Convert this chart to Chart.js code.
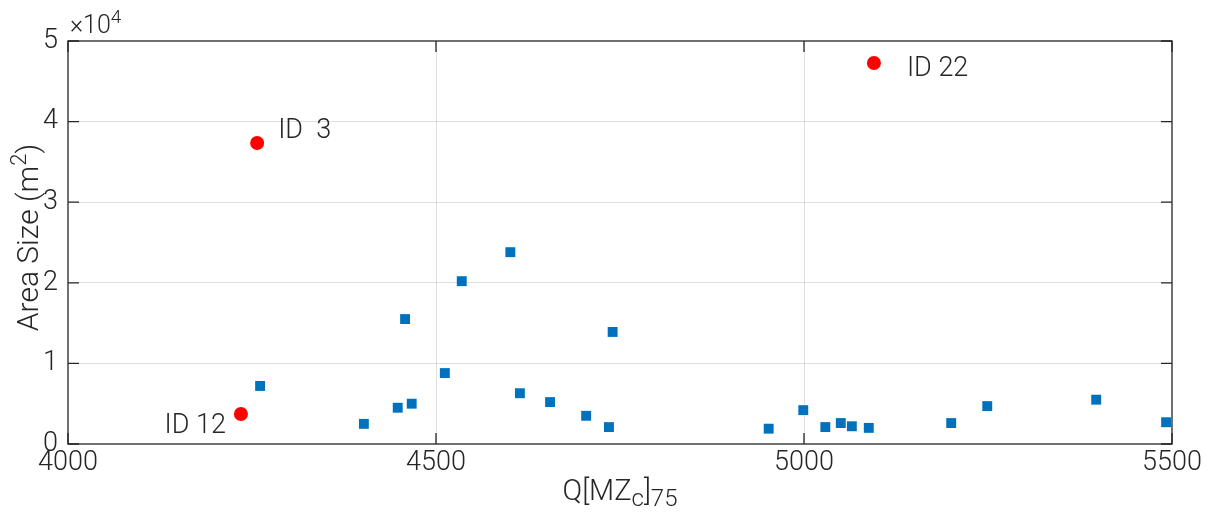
<!DOCTYPE html>
<html>
<head>
<meta charset="utf-8">
<script src="https://cdn.jsdelivr.net/npm/chart.js@4.4.1/dist/chart.umd.min.js"></script>
<style>
  html, body { margin: 0; padding: 0; background: #fff; }
  #wrap { width: 1210px; height: 515px; }
</style>
</head>
<body>
<div id="wrap"><canvas id="myChart" width="1210" height="515"></canvas></div>
<script>
// Data
const xTicks = [4000, 4500, 5000, 5500];
const yTicks = [0, 10000, 20000, 30000, 40000, 50000];

const areaQ = [4261, 4402, 4448, 4458, 4467, 4512, 4535, 4601, 4614, 4655, 4704, 4735,
  4740, 4952, 4999, 5029, 5050, 5065, 5088, 5200, 5249, 5397, 5492];
const areaSize = [7200, 2500, 4500, 15500, 5000, 8800, 20200, 23800, 6300, 5200, 3500, 2100,
  13900, 1900, 4200, 2100, 2600, 2200, 2000, 2600, 4700, 5500, 2700];

const outlierIds = ["ID  3", "ID 12", "ID 22"];
const outlierQ = [4257, 4235, 5095];
const outlierSize = [37350, 3720, 47270];

const FONT = "Roboto, 'Liberation Sans', sans-serif";
const AXIS = "#262626";
const GRID = "rgba(38,38,38,0.15)";

var chartdata = document.getElementById("myChart");

const toPoints = (xs, ys) => xs.map((x, i) => ({ x: x, y: ys[i] }));

// text pieces with sub / superscripts, drawn in a row
function drawRich(ctx, parts, x, y) {
  parts.forEach((p) => {
    ctx.font = "300 " + p.size + "px " + FONT;
    ctx.fillText(p.t, x, y + (p.dy || 0));
    x += ctx.measureText(p.t).width;
  });
}
function richWidth(ctx, parts) {
  let w = 0;
  parts.forEach((p) => {
    ctx.font = "300 " + p.size + "px " + FONT;
    w += ctx.measureText(p.t).width;
  });
  return w;
}

// box, inward ticks, axis titles and point labels
const decor = {
  id: "decor",
  afterDraw(chart) {
    const ctx = chart.ctx;
    const a = chart.chartArea;
    const sx = chart.scales.x;
    const sy = chart.scales.y;
    ctx.save();
    ctx.strokeStyle = AXIS;
    ctx.lineWidth = 1.3;
    ctx.strokeRect(a.left, a.top, a.right - a.left, a.bottom - a.top);

    const tl = 11;
    ctx.beginPath();
    xTicks.forEach((v) => {
      const px = sx.getPixelForValue(v);
      ctx.moveTo(px, a.bottom); ctx.lineTo(px, a.bottom - tl);
      ctx.moveTo(px, a.top); ctx.lineTo(px, a.top + tl);
    });
    yTicks.forEach((v) => {
      const py = sy.getPixelForValue(v);
      ctx.moveTo(a.left, py); ctx.lineTo(a.left + tl, py);
      ctx.moveTo(a.right, py); ctx.lineTo(a.right - tl, py);
    });
    ctx.stroke();

    ctx.fillStyle = AXIS;
    ctx.textBaseline = "alphabetic";
    ctx.textAlign = "left";

    // x title Q[MZc]75
    const xt = [
      { t: "Q[MZ", size: 29 },
      { t: "c", size: 24, dy: 6 },
      { t: "]", size: 29 },
      { t: "75", size: 24, dy: 6 },
    ];
    const cx = (a.left + a.right) / 2;
    drawRich(ctx, xt, cx - richWidth(ctx, xt) / 2, 500);

    // y title Area Size (m2)
    const yt = [
      { t: "Area Size (m", size: 30 },
      { t: "2", size: 22, dy: -12 },
      { t: ")", size: 30 },
    ];
    ctx.save();
    ctx.translate(38, (a.top + a.bottom) / 2 - 5);
    ctx.rotate(-Math.PI / 2);
    drawRich(ctx, yt, -richWidth(ctx, yt) / 2, 0);
    ctx.restore();

    // exponent
    drawRich(ctx, [{ t: "\u00d710", size: 25 }, { t: "4", size: 19, dy: -10 }], 70, 33);

    // point labels
    ctx.font = "300 27px " + FONT;
    ctx.textBaseline = "middle";
    const offs = [[21, -12, "left"], [-15, 12, "right"], [33, 6, "left"]];
    outlierIds.forEach((id, i) => {
      const px = sx.getPixelForValue(outlierQ[i]);
      const py = sy.getPixelForValue(outlierSize[i]);
      ctx.textAlign = offs[i][2];
      ctx.fillText(id, px + offs[i][0], py + offs[i][1]);
    });
    ctx.restore();
  },
};

var myChart = new Chart(chartdata, {
  type: "scatter",
  data: {
    datasets: [
      {
        label: "Areas",
        data: toPoints(areaQ, areaSize),
        pointStyle: "rect",
        pointRadius: 7,
        pointBorderWidth: 0,
        backgroundColor: "#0072BD",
        borderColor: "#0072BD",
      },
      {
        label: "Outliers",
        data: toPoints(outlierQ, outlierSize),
        pointStyle: "circle",
        pointRadius: 7,
        pointBorderWidth: 0,
        backgroundColor: "#FF0000",
        borderColor: "#FF0000",
      },
    ],
  },
  options: {
    responsive: false,
    animation: false,
    layout: { padding: { left: 0, right: 38, top: 41, bottom: 0 } },
    plugins: { legend: { display: false }, tooltip: { enabled: false } },
    scales: {
      x: {
        type: "linear",
        min: 4000,
        max: 5500,
        afterBuildTicks: (s) => { s.ticks = xTicks.map((v) => ({ value: v })); },
        afterFit: (s) => { s.height = 71; },
        ticks: {
          padding: 3,
          color: AXIS,
          font: { family: FONT, size: 27, weight: 300 },
          callback: (v) => String(v),
        },
        grid: {
          drawTicks: false,
          color: (c) => (c.tick && (c.tick.value === 4000 || c.tick.value === 5500) ? "rgba(0,0,0,0)" : GRID),
        },
        border: { display: false },
      },
      y: {
        type: "linear",
        min: 0,
        max: 50000,
        afterBuildTicks: (s) => { s.ticks = yTicks.map((v) => ({ value: v })); },
        afterFit: (s) => { s.width = 68; },
        ticks: {
          padding: 10,
          color: AXIS,
          font: { family: FONT, size: 27, weight: 300 },
          callback: (v) => String(v / 10000),
        },
        grid: {
          drawTicks: false,
          color: (c) => (c.tick && (c.tick.value === 0 || c.tick.value === 50000) ? "rgba(0,0,0,0)" : GRID),
        },
        border: { display: false },
      },
    },
  },
  plugins: [decor],
});
</script>
</body>
</html>
